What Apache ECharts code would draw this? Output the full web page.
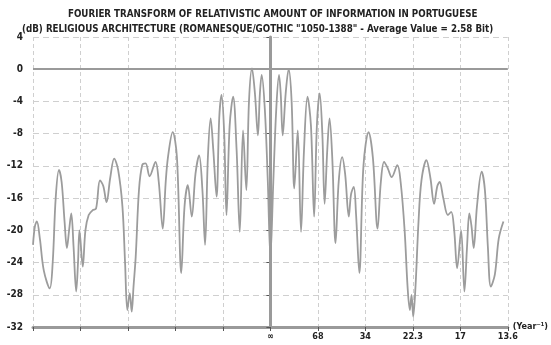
<!DOCTYPE html>
<html>
<head>
<meta charset="utf-8">
<script src="https://cdn.jsdelivr.net/npm/echarts@6/dist/echarts.min.js"></script>
<style>
html,body{margin:0;padding:0;background:#fff;}
#c{width:551px;height:345px;}
</style>
</head>
<body>
<div id="c"></div>
<script>
// Frequency position in tick units (0 = infinite period, 1..5 = 68, 34, 22.3, 17, 13.6 years)
const xVals = [
-5.000,-4.960,-4.919,-4.856,-4.772,-4.647,-4.585,-4.522,-4.453,-4.397,
-4.334,-4.286,-4.240,-4.194,-4.146,-4.090,-4.052,-4.021,-3.952,-3.896,
-3.827,-3.743,-3.672,-3.589,-3.520,-3.451,-3.374,-3.290,-3.207,-3.117,
-3.061,-3.013,-2.962,-2.921,-2.883,-2.837,-2.768,-2.699,-2.628,-2.545,
-2.420,-2.351,-2.267,-2.205,-2.157,-2.058,-1.969,-1.877,-1.808,-1.739,
-1.656,-1.578,-1.501,-1.432,-1.376,-1.317,-1.259,-1.203,-1.134,-1.077,
-1.029,-0.973,-0.925,-0.858,-0.785,-0.712,-0.645,-0.576,-0.507,-0.451,
-0.388,-0.326,-0.263,-0.221,-0.184,-0.117,-0.054,0.000,0.061,0.123,
0.182,0.217,0.259,0.322,0.384,0.447,0.503,0.576,0.645,0.708,
0.781,0.854,0.921,0.979,1.038,1.094,1.142,1.198,1.246,1.303,
1.372,1.438,1.511,1.574,1.651,1.699,1.756,1.804,1.873,1.960,
2.069,2.159,2.257,2.326,2.395,2.472,2.555,2.674,2.743,2.827,
2.889,2.937,2.973,3.008,3.056,3.119,3.182,3.286,3.370,3.447,
3.516,3.564,3.641,3.739,3.808,3.871,3.933,4.017,4.086,4.142,
4.190,4.236,4.282,4.351,4.449,4.518,4.580,4.643,4.727,4.810,
4.908
];
// Relativistic amount of information spectrum (dB)
const dBVals = [
-21.8,-19.5,-18.9,-21.0,-25.0,-27.2,-24.0,-16.0,-12.5,-14.0,
-19.0,-22.2,-20.0,-17.9,-22.0,-27.6,-24.0,-20.0,-24.5,-20.0,
-18.1,-17.5,-17.3,-13.8,-14.5,-16.5,-13.5,-11.1,-12.5,-17.0,
-24.0,-29.9,-27.8,-30.1,-27.0,-23.3,-15.0,-11.9,-11.7,-13.3,
-11.5,-14.0,-19.8,-14.0,-10.9,-7.8,-10.9,-25.3,-17.0,-14.4,
-18.3,-13.0,-10.7,-15.0,-21.8,-11.0,-6.1,-10.0,-15.8,-6.0,
-3.2,-8.0,-18.1,-7.0,-3.4,-10.0,-20.2,-7.6,-15.0,-4.0,
0.1,-3.0,-8.2,-3.0,-0.7,-5.0,-14.0,-23.3,-14.0,-5.0,
-0.7,-3.0,-8.2,-3.0,0.0,-4.0,-14.8,-7.6,-20.2,-10.0,
-3.4,-7.0,-18.3,-7.0,-3.0,-8.0,-16.7,-10.0,-6.1,-11.0,
-21.6,-14.0,-10.9,-13.0,-18.3,-15.5,-14.6,-18.0,-25.3,-12.0,
-7.8,-11.0,-19.8,-14.0,-11.5,-12.3,-13.4,-11.9,-14.0,-20.0,
-27.0,-29.9,-28.0,-30.7,-27.0,-19.0,-13.8,-11.3,-13.5,-16.7,
-14.5,-14.0,-16.0,-18.1,-17.7,-20.0,-24.7,-20.0,-27.6,-22.0,
-17.9,-19.5,-22.2,-17.0,-12.7,-15.0,-22.0,-27.0,-25.5,-21.0,
-18.9
];
// Tick labels for x ticks -5..5
const xTickLabels = ["","","","","","\u221e","68","34","22.3","17","13.6"];
const titleLine1 = "FOURIER TRANSFORM OF RELATIVISTIC AMOUNT OF INFORMATION IN PORTUGUESE";
const titleLine2 = "(dB) RELIGIOUS ARCHITECTURE (ROMANESQUE/GOTHIC \"1050-1388\" - Average Value = 2.58 Bit)";

const FONT = '"DejaVu Sans Condensed","Liberation Sans",Arial,sans-serif';
const seriesData = xVals.map((x, i) => [x, dBVals[i]]);

const chart = echarts.init(document.getElementById('c'), null, {renderer: 'canvas'});
chart.setOption({
  backgroundColor: '#ffffff',
  animation: false,
  title: [
    {text: titleLine1, left: 63, top: 4,
     textStyle: {fontFamily: FONT, fontSize: 9.7, fontWeight: 'bold', color: '#222'}},
    {text: titleLine2, left: 17, top: 19,
     textStyle: {fontFamily: FONT, fontSize: 9.7, fontWeight: 'bold', color: '#222'}}
  ],
  grid: {left: 33, right: 39, top: 37, bottom: 18, containLabel: false},
  xAxis: {
    type: 'value', min: -5, max: 5, interval: 1,
    name: '(Year\u207b\u00b9)', nameLocation: 'end', nameGap: 5,
    nameTextStyle: {fontFamily: FONT, fontSize: 9, fontWeight: 'bold', color: '#222', verticalAlign: 'middle'},
    axisLine: {show: true, onZero: false, lineStyle: {color: '#9a9a9a', width: 3}},
    axisTick: {show: true, length: 4, lineStyle: {color: '#555', width: 1}},
    axisLabel: {fontFamily: FONT, fontSize: 9, fontWeight: 'bold', color: '#222', margin: 5,
      formatter: v => xTickLabels[Math.round(v) + 5] || ''},
    splitLine: {show: true, lineStyle: {color: '#cfcfcf', type: [4, 3], width: 1}}
  },
  yAxis: {
    type: 'value', min: -32, max: 4, interval: 4,
    axisLine: {show: true, lineStyle: {color: '#9a9a9a', width: 3}},
    axisTick: {show: true, length: 4, lineStyle: {color: '#555', width: 1}},
    axisLabel: {fontFamily: FONT, fontSize: 10, fontWeight: 'bold', color: '#222', margin: 10},
    splitLine: {show: true, lineStyle: {color: '#cfcfcf', type: [6, 4], width: 1}}
  },
  series: [{
    type: 'line',
    data: seriesData,
    smooth: 0.35,
    symbol: 'none',
    lineStyle: {color: '#9c9c9c', width: 1.8},
    markLine: {
      silent: true, symbol: 'none', label: {show: false},
      lineStyle: {color: '#9a9a9a', type: 'solid', width: 2},
      data: [{yAxis: 0}, {xAxis: 0, lineStyle: {width: 3}}]
    }
  }]
});
</script>
</body>
</html>
